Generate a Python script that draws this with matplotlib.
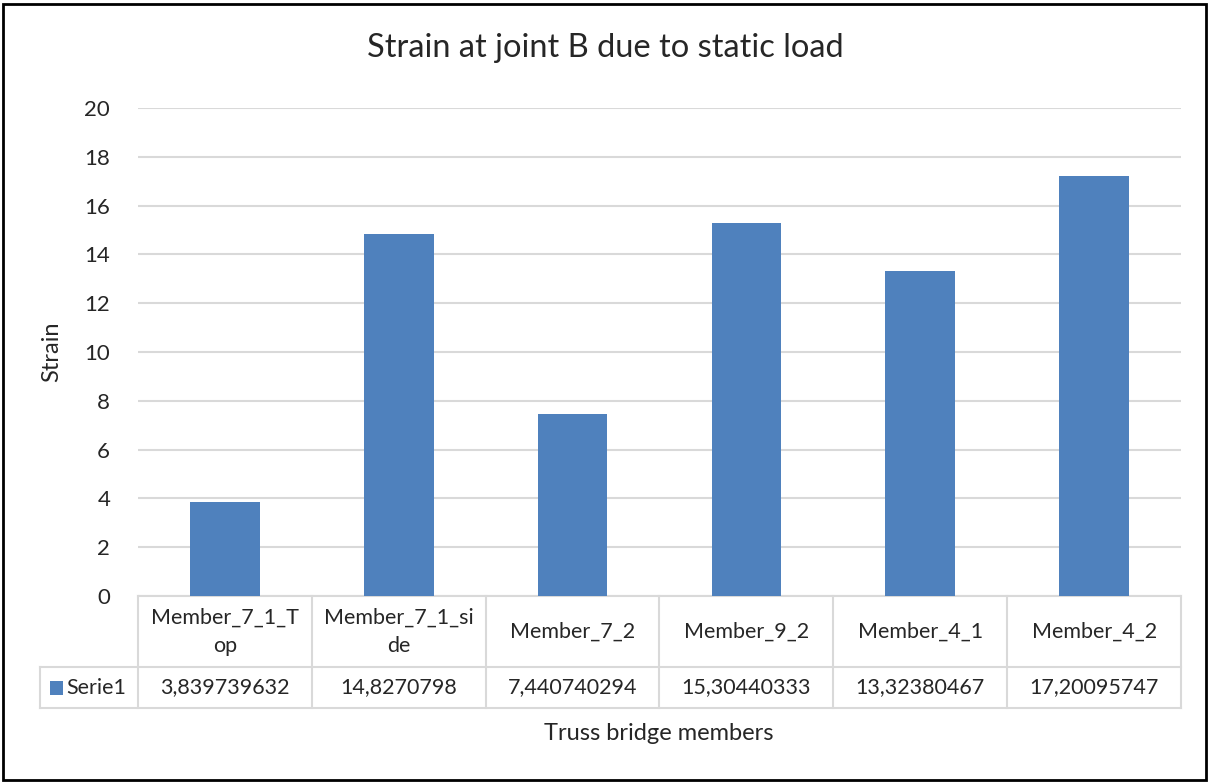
import matplotlib.pyplot as plt
import matplotlib.transforms as mtransforms
from matplotlib.patches import Rectangle

plt.rcParams['font.family'] = ['Lato', 'DejaVu Sans']

members = ['Member_7_1_T\nop', 'Member_7_1_si\nde', 'Member_7_2',
           'Member_9_2', 'Member_4_1', 'Member_4_2']
strain = [3.839739632, 14.8270798, 7.440740294, 15.30440333, 13.32380467, 17.20095747]
strain_text = ['3,839739632', '14,8270798', '7,440740294',
               '15,30440333', '13,32380467', '17,20095747']
series_name = 'Serie1'

bar_color = '#4F81BD'
grid_color = '#D9D9D9'
text_color = '#262626'

fig = plt.figure(figsize=(12.1, 7.83), dpi=100)
ax = fig.add_axes([138 / 1210, 187 / 783, 1043 / 1210, 488 / 783])

x = list(range(len(members)))
ax.bar(x, strain, width=0.4, color=bar_color, zorder=3)
ax.set_xlim(-0.5, len(members) - 0.5)
ax.set_ylim(0, 20)
ax.set_yticks(range(0, 21, 2))
ax.yaxis.grid(True, color=grid_color, linewidth=1.5)
ax.set_axisbelow(True)
ax.tick_params(axis='y', length=0, pad=20, labelsize=16, labelcolor=text_color)
ax.set_xticks([])
for s in ['top', 'right', 'left']:
    ax.spines[s].set_visible(False)
ax.spines['bottom'].set_color(grid_color)
ax.spines['bottom'].set_linewidth(1.5)

ax.set_ylabel('Strain', fontsize=17, color=text_color)
ax.yaxis.set_label_coords(-76 / 1043, 0.5)
fig.text(0.5, 1 - 48 / 783, 'Strain at joint B due to static load',
         fontsize=23.5, color=text_color, ha='center', va='center')

# data table under the plot
trans = mtransforms.blended_transform_factory(ax.transData, ax.transAxes)
px = 1 / 488
y_mid = -(667 - 596) * px
y_bot = -(708 - 596) * px
x_left = -0.5 - 98 / 173.8
line_kw = dict(color=grid_color, linewidth=1.5, transform=trans, clip_on=False)

for xv in [i - 0.5 for i in range(len(members) + 1)]:
    ax.plot([xv, xv], [0, y_bot], **line_kw)
ax.plot([x_left, len(members) - 0.5], [y_mid, y_mid], **line_kw)
ax.plot([x_left, len(members) - 0.5], [y_bot, y_bot], **line_kw)
ax.plot([x_left, x_left], [y_mid, y_bot], **line_kw)

for i, name in enumerate(members):
    ax.text(i, y_mid / 2, name, transform=trans, ha='center', va='center',
            fontsize=15.5, color=text_color, linespacing=1.5)
    ax.text(i, (y_mid + y_bot) / 2, strain_text[i], transform=trans,
            ha='center', va='center', fontsize=15.5, color=text_color)

ax.add_patch(Rectangle((x_left + 10 / 173.8, (y_mid + y_bot) / 2 - 7 * px),
                       13 / 173.8, 14 * px, facecolor=bar_color,
                       transform=trans, clip_on=False))
ax.text(x_left + 26 / 173.8, (y_mid + y_bot) / 2, series_name, transform=trans,
        ha='left', va='center', fontsize=15.5, color=text_color)

fig.text(659 / 1210, 1 - 733 / 783, 'Truss bridge members', ha='center',
         va='center', fontsize=17, color=text_color)

fig.add_artist(Rectangle((3 / 1210, 3 / 783), 1203 / 1210, 776 / 783,
                         transform=fig.transFigure, fill=False,
                         edgecolor='black', linewidth=2))

fig.savefig('out.png', dpi=100)
